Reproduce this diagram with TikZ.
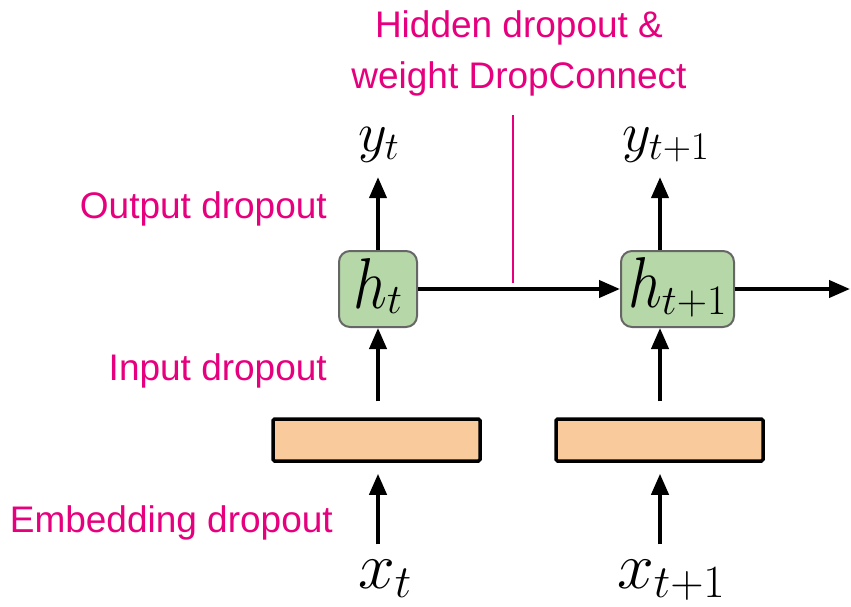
\RequirePackage{fix-cm}
\documentclass[tikz,border=0pt]{standalone}
\usepackage[no-math]{fontspec}
\newfontfamily\labfont{Liberation Sans}
\usetikzlibrary{arrows.meta}
\definecolor{mag}{RGB}{230,0,126}
\definecolor{hgreen}{HTML}{B6D7A8}
\definecolor{horange}{HTML}{F9CB9C}
\definecolor{hgray}{HTML}{666666}
\newcommand\hlab[1]{\fontsize{60}{70}\selectfont$\scalebox{1}[1.2]{$h$}_{\raisebox{6pt}{$\scriptstyle #1$}}$}
\tikzset{
  arr/.style={line width=4pt,-{Triangle[length=21pt,width=17pt]}},
  hbox/.style={draw=hgray,line width=2pt,fill=hgreen,rounded corners=11pt,minimum height=76pt,inner sep=0pt},
  ebox/.style={draw=black,line width=3.5pt,fill=horange,rounded corners=1.5pt,minimum width=207pt,minimum height=42pt,inner sep=0pt},
  maglab/.style={text=mag,inner sep=0pt,font=\labfont\fontsize{37}{44}\selectfont},
  mlab/.style={inner sep=0pt},
}
\begin{document}
\begin{tikzpicture}[x=1pt,y=-1pt]
\useasboundingbox (0,0) rectangle (851,607);
\coordinate (col1) at (378,0);
\coordinate (col2) at (660,0);
% boxes
\node[hbox,minimum width=78pt] (h1) at (378,289) {\hlab{t}};
\node[hbox,minimum width=113pt] (h2) at (677.5,289) {\hlab{t+1}};
\node[ebox] (e1) at (376.5,440) {};
\node[ebox] (e2) at (659.5,440) {};
% math labels
\node[mlab,anchor=base west] (y1) at (358,151) {\fontsize{56}{66}\selectfont$y_t$};
\node[mlab,anchor=base west] (y2) at (622,151) {\fontsize{56}{66}\selectfont$y_{t+1}$};
\node[mlab,anchor=base west] (x1) at (358,588) {\fontsize{66}{76}\selectfont$x_t$};
\node[mlab,anchor=base west] (x2) at (617,588) {\fontsize{66}{76}\selectfont$x_{t+1}$};
% magenta labels
\node[maglab,anchor=base] (hid1) at (519,38) {Hidden dropout \&};
\node[maglab,anchor=base] (hid2) at (519,89) {weight DropConnect};
\node[maglab,anchor=base east] (outd) at (327,218) {Output dropout};
\node[maglab,anchor=base east] (ind) at (327,380) {Input dropout};
\node[maglab,anchor=base east] (embd) at (333,532) {Embedding dropout};
% arrows column 1
\draw[arr,shorten <=15pt,shorten >=11pt] (col1 |- x1.north) -- (col1 |- e1.south);
\draw[arr,shorten <=16pt] (col1 |- e1.north) -- (col1 |- h1.south);
\draw[arr,shorten >=15pt] (col1 |- h1.north) -- (col1 |- y1.south);
% arrows column 2
\draw[arr,shorten <=15pt,shorten >=11pt] (col2 |- x2.north) -- (col2 |- e2.south);
\draw[arr,shorten <=16pt] (col2 |- e2.north) -- (col2 |- h2.south);
\draw[arr,shorten >=15pt] (col2 |- h2.north) -- (col2 |- y2.south);
% horizontal
\coordinate (rt) at (850,289);
\draw[arr] (h1.east) -- (h2.west);
\draw[arr] (h2.east) -- (rt);
% magenta marker
\coordinate (m1) at (513,115);
\coordinate (m2) at (513,283);
\draw[mag,line width=1.5pt] (m1) -- (m2);
\end{tikzpicture}
\end{document}
